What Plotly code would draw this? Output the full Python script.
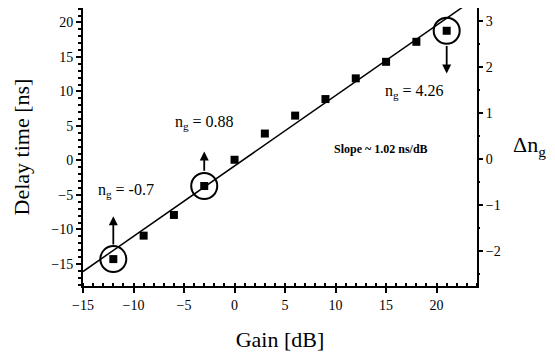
import plotly.graph_objects as go

gain_db = [-12, -9, -6, -3, 0, 3, 6, 9, 12, 15, 18, 21]
delay_ns = [-14.3, -10.9, -7.9, -3.7, 0.1, 3.9, 6.5, 8.9, 11.9, 14.3, 17.2, 18.8]
fit_x = [-15, 22.6]
slope = 1.02
intercept = -0.8
fit_y = [slope * x + intercept for x in fit_x]
circled_x = [-12, -3, 21]
circled_y = [-14.3, -3.7, 18.8]
ng_labels = ["n<sub>g</sub> = -0.7", "n<sub>g</sub> = 0.88", "n<sub>g</sub> = 4.26"]
x_ticks = [-15, -10, -5, 0, 5, 10, 15, 20]
y_ticks = [-15, -10, -5, 0, 5, 10, 15, 20]
right_ticks = [-2, -1, 0, 1, 2, 3]

FONT = "Liberation Serif"

fig = go.Figure()
fig.add_trace(go.Scatter(x=fit_x, y=fit_y, mode="lines",
                         line=dict(color="black", width=1.5), showlegend=False))
fig.add_trace(go.Scatter(x=gain_db, y=delay_ns, mode="markers",
                         marker=dict(symbol="square", size=8, color="black"),
                         showlegend=False))
# trace on the right axis (no visible marks)
fig.add_trace(go.Scatter(x=[None], y=[None], yaxis="y2", showlegend=False))

for cx, cy in zip(circled_x, circled_y):
    fig.add_shape(type="circle", xref="x", yref="y",
                  xsizemode="pixel", ysizemode="pixel",
                  xanchor=cx, yanchor=cy, x0=-13, x1=13, y0=-13, y1=13,
                  line=dict(color="black", width=2))

# arrows (x, start y, tip y)
arrows = [(-12, -12.4, -8.1), (-3, -1.7, 1.3), (21, 16.8, 12.6)]
for ax_, y0, y1 in arrows:
    fig.add_annotation(x=ax_, y=y1, ax=ax_, ay=y0, xref="x", yref="y",
                       axref="x", ayref="y", showarrow=True, arrowhead=2,
                       arrowsize=1, arrowwidth=1.8, arrowcolor="black", text="")

label_pos = [(-10.7, -4.3), (-3.0, 5.5), (17.8, 10.0)]
for (lx, ly), txt in zip(label_pos, ng_labels):
    fig.add_annotation(x=lx, y=ly, text=txt, showarrow=False,
                       xanchor="center", yanchor="middle",
                       font=dict(family=FONT, size=16, color="black"))
fig.add_annotation(x=14.5, y=1.6, text="<b>Slope ~ 1.02 ns/dB</b>", showarrow=False,
                   xanchor="center", yanchor="middle",
                   font=dict(family=FONT, size=12, color="black"))
fig.add_annotation(xref="x domain", yref="y domain",
                   x=(529 - 83) / 394, y=(286 - 146) / 278,
                   xanchor="center", yanchor="middle",
                   text="Δn<sub>g</sub>", showarrow=False,
                   font=dict(family=FONT, size=22, color="black"))

# page body has an 8px margin, so the figure is offset by 8px
fig.update_layout(
    width=555, height=353,
    margin=dict(l=75, r=86, t=0, b=75),
    paper_bgcolor="white", plot_bgcolor="white",
    font=dict(family=FONT, color="black", size=14),
    xaxis=dict(range=[-15, 24], tickvals=x_ticks, automargin=False,
               showgrid=False, zeroline=False, showline=True, mirror=True,
               linecolor="black", linewidth=2, ticks="outside", ticklen=5,
               tickwidth=1.5, tickcolor="black",
               minor=dict(dtick=1, ticks="inside", ticklen=3, tickcolor="black"),
               title=dict(text="Gain [dB]", font=dict(family=FONT, size=22), standoff=20),
               tickfont=dict(family=FONT, size=14)),
    yaxis=dict(range=[-18.2, 22.1], tickvals=y_ticks, automargin=False,
               showgrid=False, zeroline=False, showline=True,
               linecolor="black", linewidth=2, ticks="outside", ticklen=5,
               tickwidth=1.5, tickcolor="black",
               minor=dict(dtick=1, ticks="outside", ticklen=3, tickcolor="black"),
               title=dict(text="Delay time [ns]", font=dict(family=FONT, size=22), standoff=16),
               tickfont=dict(family=FONT, size=14)),
    yaxis2=dict(range=[-2.75, 3.28], overlaying="y", side="right", automargin=False,
                tickvals=right_ticks, showgrid=False, zeroline=False,
                showline=True, linecolor="black", linewidth=2,
                ticks="outside", ticklen=4, tickwidth=1.5, tickcolor="black",
                minor=dict(dtick=0.5, ticks="outside", ticklen=1, tickcolor="black"),
                tickfont=dict(family=FONT, size=14)),
)

fig.write_html("out.html")
